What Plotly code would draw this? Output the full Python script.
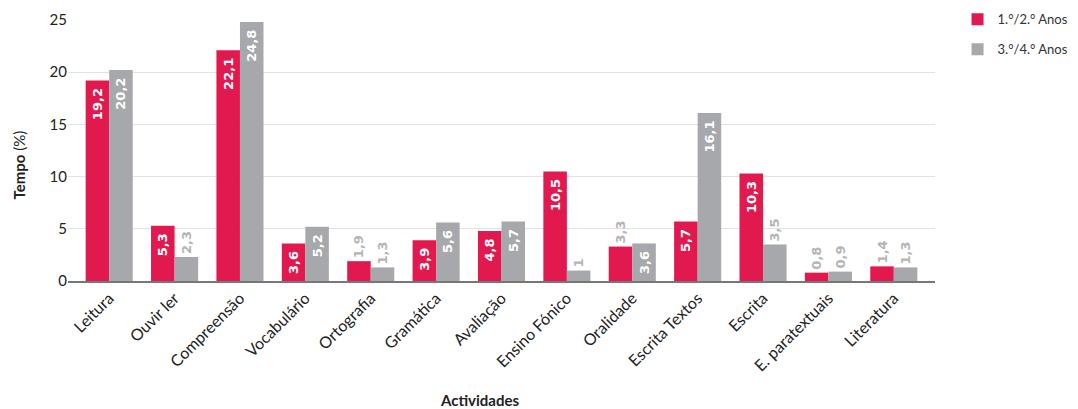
import plotly.graph_objects as go

categories = ["Leitura", "Ouvir ler", "Compreensão", "Vocabulário", "Ortografia",
              "Gramática", "Avaliação", "Ensino Fónico", "Oralidade", "Escrita Textos",
              "Escrita", "E. paratextuais", "Literatura"]
anos_12 = [19.2, 5.3, 22.1, 3.6, 1.9, 3.9, 4.8, 10.5, 3.3, 5.7, 10.3, 0.8, 1.4]
anos_34 = [20.2, 2.3, 24.8, 5.2, 1.3, 5.6, 5.7, 1, 3.6, 16.1, 3.5, 0.9, 1.3]
series_names = ["1.°/2.° Anos", "3.°/4.° Anos"]
y_ticks = [0, 5, 10, 15, 20, 25]
x_title = "<b>Actividades</b>"
y_title = "<b>Tempo</b> (%)"

colors = ["#E2194F", "#A7A8AB"]
NB = "\u00a0"


def positions(vals):
    return ["inside" if v > 3.5 else "outside" for v in vals]


def labels(vals):
    out = []
    for v, p in zip(vals, positions(vals)):
        s = f"{v:g}".replace(".", ",")
        out.append(s + NB if p == "inside" else s)
    return out


fig = go.Figure()
for i, (name, vals, col) in enumerate(zip(series_names, [anos_12, anos_34], colors)):
    fig.add_trace(go.Bar(
        x=categories, y=vals, name=name, legendgroup=f"g{i}",
        marker=dict(color=col, line=dict(width=0)),
        text=labels(vals),
        textposition=positions(vals),
        textangle=-90,
        insidetextanchor="end",
        insidetextfont=dict(color="white", size=13, family="DejaVu Sans", weight="bold"),
        outsidetextfont=dict(color="#B5B5B7", size=13, family="DejaVu Sans", weight="bold"),
        cliponaxis=False,
        hoverinfo="skip",
    ))

n = len(categories)
fig.update_layout(
    width=1070, height=401,
    margin=dict(l=60, r=143, t=12, b=128, autoexpand=False),
    paper_bgcolor="white", plot_bgcolor="white",
    barmode="group", bargap=0.28, bargroupgap=0,
    font=dict(family="Lato, Open Sans, sans-serif", color="#222", size=14),
    showlegend=True,
    legend=dict(x=1.026, y=1.06, xanchor="left", yanchor="top",
                font=dict(size=13, color="#333"), itemwidth=30,
                tracegroupgap=10, bgcolor="rgba(0,0,0,0)"),
    annotations=[
        dict(text=x_title, xref="paper", yref="paper", x=0.475, y=-0.455,
             xanchor="center", yanchor="middle", showarrow=False,
             font=dict(size=15, color="#222")),
        dict(text=y_title, xref="paper", yref="paper", x=-0.057, y=0.445,
             xanchor="center", yanchor="middle", showarrow=False, textangle=-90,
             font=dict(size=15, color="#222")),
    ],
)
fig.update_xaxes(
    range=[-0.63, n - 1 + 0.63],
    tickangle=-45, showgrid=False, showline=True, linecolor="#777", linewidth=1.5,
    ticks="", tickfont=dict(size=16, color="#222"), automargin=False,
)
fig.update_yaxes(
    range=[0, 25], tickvals=y_ticks, showgrid=True, gridcolor="#E2E2E2", gridwidth=1,
    zeroline=False, showline=False, ticks="", tickfont=dict(size=15, color="#222"),
    automargin=False,
)

fig.write_html("out.html")
